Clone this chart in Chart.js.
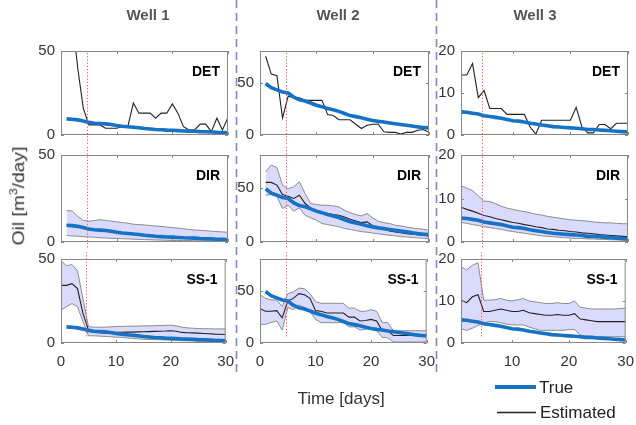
<!DOCTYPE html>
<html>
<head>
<meta charset="utf-8">
<script src="https://cdn.jsdelivr.net/npm/chart.js@4.4.1/dist/chart.umd.min.js"></script>
<style>
  body { margin: 0; background: #fff; font-family: "Liberation Sans", Arial, sans-serif; }
  #fig { position: relative; width: 636px; height: 425px; overflow: hidden; }
  #fig canvas { position: absolute; }
  .txt { position: absolute; white-space: nowrap; color: #333; }
  .well { font-weight: bold; font-size: 15px; color: #555; transform: translateX(-50%); top: 6px; }
  .ylab { font-size: 17px; left: 18px; top: 196px; transform: translate(-50%, -50%) rotate(-90deg) scaleX(1.13); }
  .ylab sup { font-size: 11px; }
  .xlab { font-size: 17px; left: 341px; top: 389px; transform: translateX(-50%); }
  .leg { font-size: 17px; line-height: 20px; color: #222; }
</style>
</head>
<body>
<div id="fig">
  <canvas id="deco" width="636" height="425"></canvas>
  <div class="txt well" style="left:148px">Well 1</div>
  <div class="txt well" style="left:338px">Well 2</div>
  <div class="txt well" style="left:535px">Well 3</div>
  <div class="txt ylab">Oil [m<sup>3</sup>/day]</div>
  <div class="txt xlab">Time [days]</div>
  <div class="txt leg" style="left:539px;top:378px">True</div>
  <div class="txt leg" style="left:540px;top:403px">Estimated</div>
</div>
<script>
// day at which the dotted marker is drawn
const SHIFT_DAY = 4.6;

// true oil rate, days 1..30
const trueW1 = [9.6, 9.4, 9.0, 8.3, 7.5, 7.0, 6.8, 6.6, 6.2, 5.6, 5.2, 4.9, 4.6, 4.3, 3.9, 3.6, 3.3, 3.1, 2.9, 2.8, 2.6, 2.4, 2.3, 2.2, 2.0, 1.9, 1.8, 1.6, 1.5, 1.3];
const trueW2 = [49, 45, 43, 41, 40, 36, 33.5, 32.4, 30.5, 28.4, 27, 25.3, 24, 22.5, 20.5, 18.5, 17.5, 16.4, 15, 13.9, 13, 12.3, 11.5, 10.8, 10, 9.3, 8.5, 7.7, 7.2, 6.8];
const trueW3 = [5.5, 5.4, 5.2, 5.0, 4.6, 4.4, 4.2, 4.0, 3.7, 3.4, 3.3, 3.1, 2.8, 2.6, 2.4, 2.2, 2.0, 1.9, 1.8, 1.7, 1.6, 1.5, 1.3, 1.3, 1.2, 1.1, 1.0, 0.9, 0.8, 0.7];

// DET estimate, days 1..30
const detW1 = [80, 70, 40, 16, 6, 6, 6, 4, 4, 4, 5, 5, 19, 13, 13, 13, 10, 13, 13, 18.5, 13, 5, 3, 3, 6.5, 6.5, 2, 10, 3, 10.5];
const detW2 = [75, 58, 56.5, 16.4, 37, 35.5, 35.5, 33, 33, 33, 33, 19.4, 18.5, 14.5, 14.5, 14.5, 10.2, 6.2, 9.3, 10.2, 10.2, 3.1, 2.5, 2.5, 1, 2.5, 2.5, 4.6, 5.2, 2.5];
const detW3 = [14.3, 14.3, 17, 8.9, 10.6, 6.3, 6.3, 6.3, 4.9, 4.9, 4.9, 4.9, 1.9, 0.2, 3.5, 3.5, 3.5, 3.5, 3.5, 3.5, 6.6, 1.9, 0.5, 0.5, 2.5, 2.5, 1.5, 2.8, 2.8, 2.8];

// DIR ensemble: mean and band, days 1..30
const dirMeanW1 = [9.8, 9.5, 8.7, 8.0, 7.5, 7.1, 6.8, 6.5, 6.1, 5.7, 5.3, 5.0, 4.7, 4.4, 4.1, 3.8, 3.5, 3.3, 3.1, 2.9, 2.7, 2.5, 2.3, 2.2, 2.0, 1.9, 1.8, 1.6, 1.5, 1.4];
const dirHighW1 = [18, 17.9, 14.8, 12.4, 12, 12.3, 12.8, 12.4, 12, 11.6, 11.2, 10.8, 10.2, 10, 9.8, 9.5, 9.2, 8.9, 8.6, 8.3, 8, 7.6, 7.2, 6.9, 6.7, 6.5, 6.2, 6.0, 5.8, 5.6];
const dirLowW1 = [3.7, 3.5, 3.3, 3.1, 2.9, 2.7, 2.4, 2.3, 2.1, 2.0, 1.9, 1.8, 1.6, 1.5, 1.4, 1.3, 1.2, 1.1, 1.0, 0.9, 0.9, 0.8, 0.8, 0.7, 0.7, 0.7, 0.6, 0.6, 0.6, 0.6];
const dirMeanW2 = [54.8, 54.8, 52.3, 43.7, 42, 40, 43, 35.4, 31.4, 28.3, 27, 26.2, 25.2, 24.6, 23, 21, 19.4, 17.8, 18.5, 15, 13, 11.7, 10.2, 9.2, 8.6, 7.7, 7.1, 6.8, 6.2, 5.5];
const dirHighW2 = [64.6, 70.8, 68.3, 52.3, 49, 50.8, 55.4, 44.6, 35.4, 34.5, 33.8, 33.8, 33.2, 32.3, 29.2, 27, 25.2, 24, 26.2, 22.2, 19.1, 17.8, 17, 15.4, 14.8, 13.8, 12.9, 12.3, 11.7, 10.8];
const dirLowW2 = [43, 43.7, 42, 30.8, 33.8, 28.3, 31.4, 24.6, 22.2, 20, 17, 16, 15, 14, 12.5, 11.5, 10.5, 9.5, 9, 8.2, 7.5, 6.8, 6.2, 5.6, 5, 4.6, 4.2, 3.8, 3.5, 3.2];
const dirMeanW3 = [8.0, 7.5, 7.1, 6.6, 6.1, 5.8, 5.4, 5.1, 4.8, 4.5, 4.3, 4.0, 3.8, 3.5, 3.3, 3.0, 2.9, 2.7, 2.6, 2.4, 2.3, 2.1, 2.0, 1.9, 1.7, 1.6, 1.5, 1.4, 1.3, 1.2];
const dirHighW3 = [12.9, 12.4, 11.8, 10.6, 9.4, 9.3, 8.8, 8.2, 7.8, 7.5, 7.2, 7.0, 6.7, 6.4, 6.2, 5.9, 5.7, 5.5, 5.3, 5.1, 5.0, 4.9, 4.8, 4.6, 4.5, 4.4, 4.4, 4.3, 4.2, 4.2];
const dirLowW3 = [4.5, 4.3, 4.0, 3.8, 3.5, 3.3, 3.1, 2.9, 2.6, 2.4, 2.2, 2.0, 1.8, 1.6, 1.4, 1.3, 1.2, 1.1, 1.0, 0.9, 0.8, 0.8, 0.7, 0.7, 0.6, 0.6, 0.5, 0.5, 0.4, 0.4];

// SS-1 ensemble: wells 1 and 2 from day 0, well 3 from day 1
const ssMeanW1 = [34.3, 34.3, 35.3, 32.4, 17.6, 7.8, 6.3, 6.1, 5.9, 6.0, 6.3, 6.4, 6.5, 6.5, 6.6, 6.7, 6.8, 6.9, 7.0, 7.1, 7.3, 7.0, 6.3, 6.1, 6.0, 5.9, 5.7, 5.5, 5.3, 5.2, 5.1];
const ssHighW1 = [49, 46, 46.7, 43, 26.5, 9.8, 9.4, 9.4, 9.4, 9.6, 9.8, 9.9, 10, 10, 10.1, 10.2, 10.2, 10.3, 10.4, 10.5, 10.6, 10.2, 9.4, 9.0, 8.8, 8.6, 8.5, 8.5, 8.4, 8.4, 8.4];
const ssLowW1 = [19.6, 21.6, 23.5, 21.6, 12.7, 4.3, 4.3, 4.1, 3.9, 3.7, 3.5, 3.3, 3.0, 2.8, 2.5, 2.2, 2.1, 2.0, 1.9, 1.8, 1.6, 1.5, 1.4, 1.3, 1.2, 1.0, 1.0, 0.9, 0.9, 0.8, 0.8];
const ssMeanW2 = [32.6, 30.2, 30.2, 30.8, 24, 40, 42.5, 47, 46, 42.5, 30.8, 30.2, 28.6, 28.6, 28.6, 28.6, 24.6, 24.6, 21, 21.5, 22.5, 21, 11.7, 11.7, 7.1, 7.1, 7.1, 7.1, 7.1, 7.1, 7.1];
const ssHighW2 = [46, 42.5, 41, 41, 34.8, 47, 48.6, 52.3, 51.7, 47, 39.4, 37.8, 37.8, 37.8, 37.8, 37.8, 33.2, 33.2, 30.2, 30.2, 31.7, 30.2, 19.4, 19.4, 11.7, 11.7, 11.7, 11.7, 11.7, 11.7, 11.7];
const ssLowW2 = [17.8, 17.8, 19.4, 21, 12.3, 33.8, 31.7, 36.3, 33.8, 30.2, 22.5, 19.4, 19.4, 19.4, 19.4, 19.4, 15.4, 15.4, 12.3, 13.2, 14.2, 11.7, 5.5, 4.9, 0.9, 0.9, 0.9, 0.9, 0.9, 0.9, 0.9];
const ssMeanW3 = [10.2, 9.6, 11, 11.5, 7.5, 7.5, 7.8, 8.1, 7.8, 7.5, 7.5, 7.8, 7.2, 7.0, 6.8, 6.6, 6.6, 6.8, 6.6, 6.6, 7.0, 5.7, 5.5, 5.3, 5.1, 5.1, 5.1, 5.1, 5.1, 5.1];
const ssHighW3 = [18.1, 17.4, 18.5, 19.1, 10.2, 10.2, 10.3, 10.6, 10.2, 10, 10.3, 10.6, 10, 9.8, 9.6, 9.4, 9.4, 9.6, 9.4, 9.4, 10, 8.5, 8.3, 8.1, 8.1, 8.1, 8.1, 8.1, 8.2, 8.3];
const ssLowW3 = [3.4, 3.0, 3.5, 4.2, 4.8, 5.1, 5.1, 4.8, 4.5, 4.3, 4.3, 4.3, 3.8, 3.4, 3.0, 3.0, 3.0, 3.0, 3.0, 3.2, 3.2, 1.9, 1.7, 1.7, 1.5, 1.5, 1.5, 1.5, 1.5, 1.5];

// axis ticks per well
const xTicksW = [[0, 10, 20, 30], [0, 10, 20, 30], [10, 20, 30]];
const xMinW = [0, 0, 1];
const yTicksW = [[0, 50], [0, 50], [0, 10, 20]];
const yMaxW = [50, 80, 20];
const ssStartW = [0, 0, 1];

const methods = ["DET", "DIR", "SS-1"];
const truth = [trueW1, trueW2, trueW3];
const det = [detW1, detW2, detW3];
const dir = [[dirMeanW1, dirHighW1, dirLowW1], [dirMeanW2, dirHighW2, dirLowW2], [dirMeanW3, dirHighW3, dirLowW3]];
const ss = [[ssMeanW1, ssHighW1, ssLowW1], [ssMeanW2, ssHighW2, ssLowW2], [ssMeanW3, ssHighW3, ssLowW3]];

// panel placement
const COL_LEFT = [61, 260, 461], COL_W = [167, 169, 167];
const ROW_TOP = [48, 152, 256], ROW_H = [87, 90, 87];
const PAD = { l: 45, r: 16, t: 12, b: 28 };
const DOT_SPAN = [[2, 9], [-8, 7], [-7, -5]];

const FONT = "'Liberation Sans', Arial, sans-serif";
const BLUE = "#1572c4";
const BAND = "rgb(218, 218, 252)";

function pts(vals, start) {
    return vals.map((v, i) => ({ x: start + i, y: v }));
}

function line(data, color, width, extra) {
    return Object.assign({ data, borderColor: color, borderWidth: width, pointRadius: 0, tension: 0, fill: false }, extra || {});
}

// box, inward ticks, dotted marker and method label
const panelDeco = {
    id: "panelDeco",
    afterDatasetsDraw(chart, args, o) {
        const { ctx, chartArea: a, scales: { x, y } } = chart;
        ctx.save();
        ctx.strokeStyle = "#878787";
        ctx.lineWidth = 1;
        ctx.strokeRect(a.left + 0.5, a.top + 0.5, a.width - 1, a.height - 1);
        ctx.beginPath();
        x.ticks.forEach(t => {
            const px = Math.round(x.getPixelForValue(t.value)) + 0.5;
            ctx.moveTo(px, a.bottom); ctx.lineTo(px, a.bottom - 3);
            ctx.moveTo(px, a.top); ctx.lineTo(px, a.top + 3);
        });
        y.ticks.forEach(t => {
            const py = Math.round(y.getPixelForValue(t.value)) + 0.5;
            ctx.moveTo(a.left, py); ctx.lineTo(a.left + 3, py);
            ctx.moveTo(a.right, py); ctx.lineTo(a.right - 3, py);
        });
        ctx.stroke();

        const mx = Math.round(x.getPixelForValue(SHIFT_DAY)) + 0.5;
        ctx.strokeStyle = "#ff5050";
        ctx.setLineDash([1.2, 2]);
        ctx.beginPath();
        ctx.moveTo(mx, a.top + o.span[0]);
        ctx.lineTo(mx, a.bottom + o.span[1]);
        ctx.stroke();
        ctx.setLineDash([]);

        ctx.fillStyle = "#000";
        ctx.font = "bold 14px " + FONT;
        ctx.textAlign = "right";
        ctx.textBaseline = "middle";
        ctx.fillText(o.label, a.right - 8, a.top + 21);
        ctx.restore();
    }
};

function buildPanel(col, row) {
    const canvas = document.createElement("canvas");
    const w = COL_W[col] + PAD.l + PAD.r, h = ROW_H[row] + PAD.t + PAD.b;
    canvas.width = w; canvas.height = h;
    canvas.style.width = w + "px"; canvas.style.height = h + "px";
    canvas.style.left = (COL_LEFT[col] - PAD.l) + "px";
    canvas.style.top = (ROW_TOP[row] - PAD.t) + "px";
    document.getElementById("fig").appendChild(canvas);

    const datasets = [line(pts(truth[col], 1), BLUE, 3.6)];
    if (row === 0) {
        datasets.push(line(pts(det[col], 1), "#222", 1.1));
    } else {
        const [mean, high, low] = row === 1 ? dir[col] : ss[col];
        const start = row === 1 ? 1 : ssStartW[col];
        datasets.push(line(pts(mean, start), "#222", 1.1));
        datasets.push(line(pts(high, start), "#8c8c8c", 1));
        datasets.push(line(pts(low, start), "#8c8c8c", 1, { fill: "-1", backgroundColor: BAND }));
    }

    new Chart(canvas, {
        type: "line",
        data: { datasets },
        plugins: [panelDeco],
        options: {
            responsive: false,
            animation: false,
            events: [],
            layout: { padding: { left: 0, right: PAD.r, top: PAD.t, bottom: 0 } },
            plugins: {
                legend: { display: false },
                tooltip: { enabled: false },
                panelDeco: { label: methods[row], span: DOT_SPAN[row] }
            },
            scales: {
                x: {
                    type: "linear", min: xMinW[col], max: 30,
                    grid: { display: false, drawTicks: false },
                    border: { display: false },
                    ticks: { display: row === 2, padding: 10, color: "#333", font: { family: FONT, size: 15 }, maxRotation: 0 },
                    afterBuildTicks: ax => { ax.ticks = xTicksW[col].map(v => ({ value: v })); },
                    afterFit: ax => { ax.height = PAD.b; }
                },
                y: {
                    min: 0, max: yMaxW[col],
                    grid: { display: false, drawTicks: false },
                    border: { display: false },
                    ticks: { padding: 6, color: "#333", font: { family: FONT, size: 15 } },
                    afterBuildTicks: ax => { ax.ticks = yTicksW[col].map(v => ({ value: v })); },
                    afterFit: ax => { ax.width = PAD.l; }
                }
            }
        }
    });
}

function drawFigure() {
    const ctx = document.getElementById("deco").getContext("2d");
    // dashed column separators
    ctx.strokeStyle = "#7d88c8";
    ctx.lineWidth = 1.6;
    ctx.setLineDash([8, 5]);
    [236.5, 436.5].forEach(x => {
        ctx.beginPath(); ctx.moveTo(x, 0); ctx.lineTo(x, 377); ctx.stroke();
    });
    ctx.setLineDash([]);
    // legend keys
    ctx.strokeStyle = BLUE; ctx.lineWidth = 4;
    ctx.beginPath(); ctx.moveTo(495, 387); ctx.lineTo(536, 387); ctx.stroke();
    ctx.strokeStyle = "#222"; ctx.lineWidth = 1.3;
    ctx.beginPath(); ctx.moveTo(497, 412.5); ctx.lineTo(536, 412.5); ctx.stroke();
}

window.onload = () => {
    drawFigure();
    for (let r = 0; r < 3; r++)
        for (let c = 0; c < 3; c++)
            buildPanel(c, r);
};
</script>
</body>
</html>
